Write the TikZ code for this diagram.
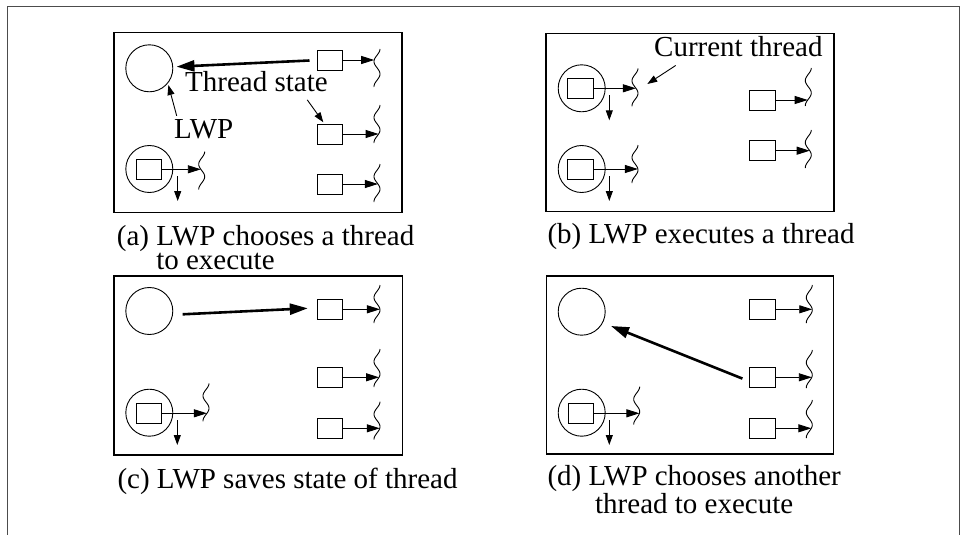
\documentclass[tikz,border=0pt]{standalone}
\usepackage{fontspec}
\setmainfont{Liberation Serif}
\usetikzlibrary{arrows.meta}
\tikzset{
  thrbox/.style={draw, line width=0.9pt, minimum width=25.5pt, minimum height=20pt, inner sep=0pt},
  lwpcirc/.style={draw, circle, line width=0.9pt, minimum size=47pt, inner sep=0pt},
  panel/.style={draw, line width=1.4pt},
  tarr/.style={line width=0.9pt, -{Triangle[length=13pt,width=8pt]}},
  darr/.style={line width=0.9pt, -{Triangle[length=10pt,width=7pt]}},
  bigarr/.style={line width=2.6pt, -{Triangle[length=18pt,width=11pt]}},
  lbl/.style={font=\fontsize{29}{24.5}\selectfont, inner sep=0pt},
  squig/.style={line width=0.9pt},
  frame/.style={line width=1pt, draw=black!70},
}
% thread box with arrow to its squiggle: name, cx, cy, squiggle x, squiggle top
\newcommand\thrd[5]{%
  \node[thrbox] (#1) at (#2,#3) {};
  \coordinate (#1s) at ({#4+3*cos(360*(#3-#5)/25)},#3);
  \draw[squig] plot[domain=0:38,samples=40,smooth] ({#4+3*cos(360*\x/25)},{#5+\x});
  \draw[tarr] (#1) -- (#1s);
}
% downward arrow next to a running thread: name, x, y of box centre
\newcommand\dwn[3]{%
  \coordinate (#1t) at (#2,#3+7);
  \coordinate (#1b) at (#2,#3+32);
  \draw[darr] (#1t) -- (#1b);
}
\begin{document}
\begin{tikzpicture}[x=1pt,y=-1pt]
\useasboundingbox (0,0) rectangle (961,535);
% outer frame (open at the bottom)
\draw[frame] (7,535) -- (7,7) -- (959,7) -- (959,535);

% ---------------- (a) ----------------
\draw[panel] (114,32.7) rectangle (402,212.7);
\node[lwpcirc] (A1) at (149.3,68.3) {};
\node[lwpcirc] (A2) at (149.3,169) {};
\thrd{a0}{149}{169.3}{201.7}{151.7}
\dwn{ad}{177.7}{169}
\thrd{a1}{330}{60}{377}{49}
\thrd{a2}{330}{134}{377}{105}
\thrd{a3}{330}{184}{377}{164}
\draw[bigarr] ([xshift=-7.3pt,yshift=-0.5pt]a1.west) -- ([xshift=3.2pt,yshift=1.6pt]A1.east);
\node[lbl, anchor=base west] (ts) at (185,91.7) {Thread state};
\node[lbl, anchor=base west] (lw) at (174,138) {LWP};
\draw[darr] ([xshift=2.7pt,yshift=3pt]lw.north west) -- ([xshift=1pt,yshift=-1pt]A1.-41);
\draw[darr] ([xshift=-20.7pt,yshift=-7.6pt]ts.south east) -- ([xshift=-6.7pt,yshift=1.3pt]a2.north);
\node[lbl, anchor=base west, align=left] (capa) at (116.7,269.5)
  {(a) LWP chooses a thread\\\hphantom{(a) }to execute};

% ---------------- (b) ----------------
\draw[panel] (546,33.3) rectangle (834,211.7);
\node[lwpcirc] (B1) at (581.7,88.3) {};
\node[lwpcirc] (B2) at (581.7,169) {};
\thrd{b0}{580.5}{88.3}{635}{68.3}
\dwn{bd}{609.3}{88.3}
\thrd{b9}{580.5}{169}{635}{145}
\dwn{be}{609.3}{169}
\thrd{b1}{762.2}{100}{808.3}{68}
\thrd{b2}{762.2}{150.7}{808.3}{130}
\node[lbl, anchor=base west] (ct) at (654,56.7) {Current thread};
\coordinate (ctend) at (647.3,84);
\draw[darr] ([xshift=21.7pt,yshift=-8.3pt]ct.south west) -- (ctend);
\node[lbl, anchor=base west] (capb) at (547.3,243.3) {(b) LWP executes a thread};

% ---------------- (c) ----------------
\draw[panel] (114,276) rectangle (402.7,455);
\node[lwpcirc] (C1) at (149.3,311) {};
\node[lwpcirc] (C2) at (149.3,412.7) {};
\thrd{c1}{330}{309.3}{377}{285}
\thrd{c2}{330}{377.3}{377}{349}
\thrd{c3}{330}{428.3}{377}{401.7}
\thrd{c0}{149}{413.3}{206}{383.3}
\dwn{cd}{177.3}{413}
\draw[bigarr] ([xshift=9.4pt,yshift=-3.3pt]C1.east) -- ([xshift=-9pt,yshift=1pt]c1.west);
\node[lbl, anchor=base west] (capc) at (117.3,488.3) {(c) LWP saves state of thread};

% ---------------- (d) ----------------
\draw[panel] (546.7,276) rectangle (833.3,454);
\node[lwpcirc] (D1) at (581.7,311.7) {};
\node[lwpcirc] (D2) at (581.7,412.7) {};
\thrd{d1}{762.2}{309.3}{809.3}{285}
\thrd{d2}{762.2}{377.3}{809.3}{350}
\thrd{d3}{762.2}{428.3}{809.3}{400}
\thrd{d0}{580.8}{413.3}{636.7}{386.7}
\dwn{dd}{609.3}{413}
\draw[bigarr] ([xshift=-6.6pt,yshift=-1.3pt]d2.west) -- ([xshift=29.3pt,yshift=-14.3pt]D1.center);
\node[lbl, anchor=base west, align=center] (capd) at (547.3,513)
  {(d) LWP chooses another\\thread to execute};
\end{tikzpicture}
\end{document}
